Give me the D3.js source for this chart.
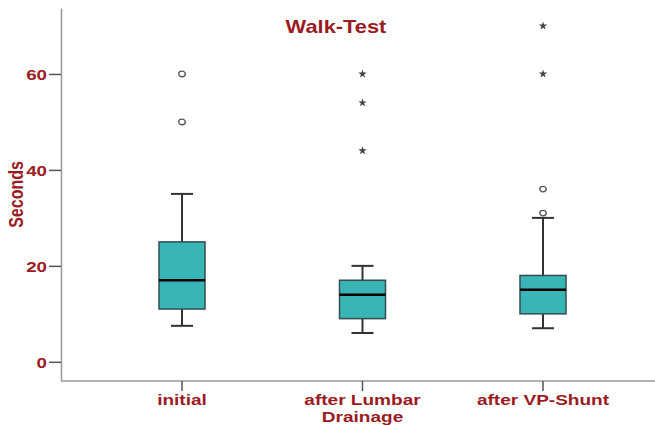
<!DOCTYPE html>
<html>
<head>
<meta charset="utf-8">
<script src="https://cdn.jsdelivr.net/npm/d3@7"></script>
<style>
    body { margin: 0; background: #fff; }
    text { font-family: "Liberation Sans", Arial, sans-serif; font-weight: bold; fill: #9b1b1f; }
</style>
</head>
<body>
<svg id="chart"></svg>
<script>
// Box plot summaries (seconds)
const categories = ["initial", "after Lumbar Drainage", "after VP-Shunt"];
const tickLabels = [["initial"], ["after Lumbar", "Drainage"], ["after VP-Shunt"]];
const whiskerLow = [7.5, 6, 7];
const q1 = [11, 9, 10];
const median = [17, 14, 15];
const q3 = [25, 17, 18];
const whiskerHigh = [35, 20, 30];
const outliers = [[50, 60], [], [31, 36]];     // drawn as circles
const extremes = [[], [44, 54, 60], [60, 70]]; // drawn as stars
const yTicks = [0, 20, 40, 60];

const width = 655;
const height = 425;
const stretch = "scale(1.27,1)"; // the original text is wider than it is tall

const svg = d3.select("#chart")
    .attr("width", width)
    .attr("height", height);

const plotLeft = 61, plotRight = 655, plotTop = 8, plotBottom = 381;

const y = d3.scaleLinear().domain([-4, 73.75]).range([plotBottom, plotTop]);
const x = d3.scalePoint().domain(categories).range([182, 543]);

// y axis
const yAxis = svg.append("g")
    .attr("transform", `translate(${plotLeft},0)`)
    .call(d3.axisLeft(y).tickValues(yTicks).tickSize(12).tickSizeOuter(0).tickFormat(d3.format("d")));
yAxis.select(".domain").attr("stroke", "#999").attr("stroke-width", 1.5);
yAxis.selectAll(".tick line").attr("stroke", "#555").attr("stroke-width", 1.5);
yAxis.selectAll(".tick text")
    .attr("x", 0).attr("dy", null)
    .attr("transform", `translate(-14,6) scale(1.25,1)`)
    .style("font-size", "15px")
    .attr("fill", "#9b1b1f");

// x axis
svg.append("line")
    .attr("x1", plotLeft).attr("x2", plotRight)
    .attr("y1", plotBottom).attr("y2", plotBottom)
    .attr("stroke", "#999").attr("stroke-width", 1.5);

const xTicks = svg.append("g").selectAll("g")
    .data(categories)
    .join("g")
    .attr("transform", d => `translate(${x(d)},${plotBottom})`);
xTicks.append("line").attr("y2", 10).attr("stroke", "#555").attr("stroke-width", 1.5);

// one text per label, wrapped lines as tspans
xTicks.append("text")
    .attr("text-anchor", "middle")
    .attr("transform", `translate(0,24) ${stretch}`)
    .style("font-size", "15px")
    .selectAll("tspan")
    .data((d, i) => tickLabels[i])
    .join("tspan")
    .attr("x", 0)
    .attr("y", (d, k) => k * 17)
    .text(d => d);

// axis title
svg.append("text")
    .attr("text-anchor", "middle")
    .attr("transform", `translate(23,${(plotTop + plotBottom) / 2}) scale(1.25,1) rotate(-90)`)
    .style("font-size", "16px")
    .text("Seconds");

// chart title
svg.append("text")
    .attr("text-anchor", "middle")
    .attr("transform", `translate(336,33) scale(1.25,1)`)
    .style("font-size", "17.5px")
    .text("Walk-Test");

// boxes
const boxWidth = 46;
const capWidth = 22;
const boxes = svg.append("g").selectAll("g")
    .data(categories)
    .join("g")
    .attr("transform", d => `translate(${x(d)},0)`);

boxes.append("line")
    .attr("y1", (d, i) => y(whiskerLow[i])).attr("y2", (d, i) => y(q1[i]))
    .attr("stroke", "#333").attr("stroke-width", 2);
boxes.append("line")
    .attr("y1", (d, i) => y(q3[i])).attr("y2", (d, i) => y(whiskerHigh[i]))
    .attr("stroke", "#333").attr("stroke-width", 2);
boxes.append("line")
    .attr("x1", -capWidth / 2).attr("x2", capWidth / 2)
    .attr("y1", (d, i) => y(whiskerLow[i])).attr("y2", (d, i) => y(whiskerLow[i]))
    .attr("stroke", "#333").attr("stroke-width", 2);
boxes.append("line")
    .attr("x1", -capWidth / 2).attr("x2", capWidth / 2)
    .attr("y1", (d, i) => y(whiskerHigh[i])).attr("y2", (d, i) => y(whiskerHigh[i]))
    .attr("stroke", "#333").attr("stroke-width", 2);
boxes.append("rect")
    .attr("x", -boxWidth / 2).attr("width", boxWidth)
    .attr("y", (d, i) => y(q3[i]))
    .attr("height", (d, i) => y(q1[i]) - y(q3[i]))
    .attr("fill", "#39b5b7").attr("stroke", "#2f4f50").attr("stroke-width", 1.5);
boxes.append("line")
    .attr("x1", -boxWidth / 2).attr("x2", boxWidth / 2)
    .attr("y1", (d, i) => y(median[i])).attr("y2", (d, i) => y(median[i]))
    .attr("stroke", "#000").attr("stroke-width", 2.5);

// outliers
boxes.selectAll("ellipse")
    .data((d, i) => outliers[i])
    .join("ellipse")
    .attr("cy", d => y(d))
    .attr("rx", 3.3).attr("ry", 2.8)
    .attr("fill", "#fff").attr("stroke", "#555").attr("stroke-width", 1.3);

boxes.selectAll("path.star")
    .data((d, i) => extremes[i])
    .join("path")
    .attr("class", "star")
    .attr("d", d3.symbol(d3.symbolStar, 22))
    .attr("transform", d => `translate(0,${y(d)})`)
    .attr("fill", "#444");
</script>
</body>
</html>
